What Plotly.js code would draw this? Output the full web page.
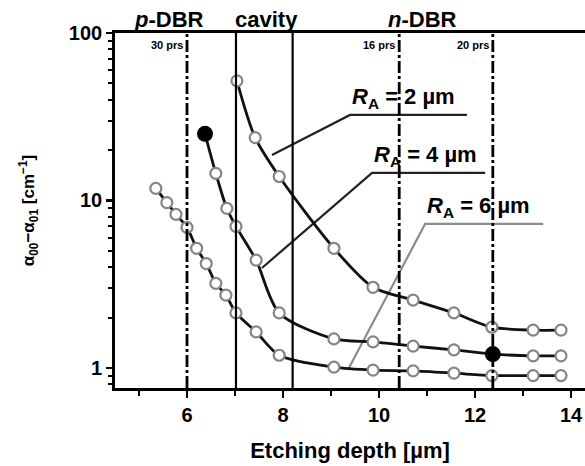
<!DOCTYPE html>
<html>
<head>
<meta charset="utf-8">
<script src="https://cdn.plot.ly/plotly-3.0.1.min.js"></script>
<style>
  html, body { margin: 0; padding: 0; background: #fff; }
  #chart { width: 585px; height: 466px; }
</style>
</head>
<body>
<div id="chart"></div>
<script>
// Mode-loss difference versus etching depth for three aperture radii
const depth2 = [7.04, 7.42, 7.92, 9.06, 9.875, 10.71, 11.56, 12.35, 13.21, 13.79];
const loss2  = [51.8, 23.7, 13.9, 5.18, 3.03, 2.54, 2.13, 1.75, 1.68, 1.68];

const depth4 = [6.375, 6.6, 6.83, 7.02, 7.44, 7.92, 9.06, 9.875, 10.71, 11.56, 12.37, 13.21, 13.79];
const loss4  = [25.0, 14.5, 8.96, 7.0, 4.4, 2.13, 1.49, 1.43, 1.35, 1.28, 1.21, 1.18, 1.18];

const depth6 = [5.35, 5.58, 5.77, 6.0, 6.2, 6.4, 6.6, 6.81, 7.02, 7.44, 7.92, 9.06, 9.875, 10.71, 11.56, 12.35, 13.21, 13.79];
const loss6  = [11.8, 9.7, 8.26, 6.9, 5.18, 4.2, 3.2, 2.72, 2.13, 1.64, 1.19, 1.01, 0.97, 0.96, 0.93, 0.90, 0.90, 0.90];

// highlighted design points on the 4 µm curve (indices into depth4/loss4)
const highlightIdx = [0, 10];

// layer boundaries
const dbrPairDepths = [6.0, 10.42, 12.37];
const dbrPairLabels = ['30 prs', '16 prs', '20 prs'];
const cavityEdges   = [7.02, 8.2];

const layerNames = ['<i>p</i>-DBR', 'cavity', '<i>n</i>-DBR'];
const layerCenters = [5.62, 7.65, 10.9];

const radiusLabels = ['<i>R</i><sub>A</sub> = 2 µm', '<i>R</i><sub>A</sub> = 4 µm', '<i>R</i><sub>A</sub> = 6 µm'];
// label leaders: [tip on curve, elbow, end of underline]
const leaderX = [[7.77, 9.396, 11.83], [7.56, 9.854, 12.21], [9.35, 10.96, 13.42]];
const leaderY = [[18.7, 32.4, 32.4], [3.95, 14.6, 14.6], [0.973, 7.24, 7.24]];
const leaderColor = ['#222', '#222', '#8c8c8c'];

const FONT = 'Arial, "Liberation Sans", sans-serif';

function curve(x, y) {
  return {
    x: x, y: y, type: 'scatter', mode: 'lines+markers',
    line: { color: '#111', width: 2.8, shape: 'spline', smoothing: 0.8 },
    marker: { symbol: 'circle', size: 11, color: '#fff', line: { color: '#858585', width: 2.2 } },
    showlegend: false, hoverinfo: 'x+y'
  };
}

const traces = [];
for (let i = 0; i < 3; i++) {
  traces.push({
    x: leaderX[i], y: leaderY[i], type: 'scatter', mode: 'lines',
    line: { color: leaderColor[i], width: 2.2 }, showlegend: false, hoverinfo: 'skip'
  });
}
traces.push(curve(depth2, loss2));
traces.push(curve(depth4, loss4));
traces.push(curve(depth6, loss6));
traces.push({
  x: highlightIdx.map(i => depth4[i]), y: highlightIdx.map(i => loss4[i]),
  type: 'scatter', mode: 'markers',
  marker: { symbol: 'circle', size: 16, color: '#000' },
  showlegend: false
});

const shapes = [];
dbrPairDepths.forEach(x => shapes.push({
  type: 'line', xref: 'x', yref: 'paper', x0: x, x1: x, y0: 0, y1: 1,
  line: { color: '#000', width: 2.8, dash: '12px,3px,3px,3px' }
}));
cavityEdges.forEach(x => shapes.push({
  type: 'line', xref: 'x', yref: 'paper', x0: x, x1: x, y0: 0, y1: 1,
  line: { color: '#000', width: 2.2 }
}));

const annotations = [];
layerNames.forEach((t, i) => annotations.push({
  text: t, xref: 'x', yref: 'paper', x: layerCenters[i], y: 1.037,
  xanchor: 'center', yanchor: 'middle', showarrow: false,
  font: { family: FONT, size: 22, weight: 'bold', color: '#000' }
}));
dbrPairLabels.forEach((t, i) => annotations.push({
  text: t, xref: 'x', yref: 'paper', x: dbrPairDepths[i], y: 0.966, xshift: -2,
  xanchor: 'right', yanchor: 'middle', showarrow: false,
  font: { family: FONT, size: 11, weight: 'bold', color: '#000' }
}));
radiusLabels.forEach((t, i) => annotations.push({
  text: t, xref: 'x', yref: 'y', x: leaderX[i][1], y: Math.log10(leaderY[i][1]),
  xanchor: 'left', yanchor: 'bottom', xshift: 0, yshift: 1, showarrow: false,
  font: { family: FONT, size: 22, weight: 'bold', color: '#000' }
}));

const layout = {
  width: 585, height: 466,
  margin: { l: 115, r: 0, t: 33, b: 78 },
  paper_bgcolor: '#fff', plot_bgcolor: '#fff',
  font: { family: FONT, color: '#000' },
  xaxis: {
    range: [4.5, 14.29],
    tickvals: [6, 8, 10, 12, 14],
    ticks: 'outside', ticklen: 7, tickwidth: 2.8, tickcolor: '#000',
    minor: { tickvals: [5, 7, 9, 11, 13], ticks: 'outside', ticklen: 5, tickwidth: 2, tickcolor: '#000' },
    showline: true, linewidth: 2.8, linecolor: '#000', mirror: true,
    showgrid: false, zeroline: false,
    tickfont: { family: FONT, size: 20, weight: 'bold' },
    title: { text: 'Etching depth [µm]', standoff: 18, font: { family: FONT, size: 22, weight: 'bold' } }
  },
  yaxis: {
    type: 'log', range: [-0.12, 2.0],
    tickvals: [1, 10, 100], ticktext: ['1', '10', '100'],
    ticks: 'outside', ticklen: 6, tickwidth: 2.8, tickcolor: '#000',
    minor: {
      tickvals: [0.8, 0.9, 2, 3, 4, 5, 6, 7, 8, 9, 20, 30, 40, 50, 60, 70, 80, 90],
      ticks: 'outside', ticklen: 4, tickwidth: 2, tickcolor: '#000'
    },
    showline: true, linewidth: 2.8, linecolor: '#000',
    showgrid: false, zeroline: false,
    tickfont: { family: FONT, size: 20, weight: 'bold' },
    title: { text: 'α<sub>00</sub>−α<sub>01</sub> [cm<sup>−1</sup>]', standoff: 30, font: { family: FONT, size: 17, weight: 'bold' } }
  },
  shapes: shapes,
  annotations: annotations
};

Plotly.newPlot('chart', traces, layout, { displayModeBar: false, staticPlot: true });
</script>
</body>
</html>
